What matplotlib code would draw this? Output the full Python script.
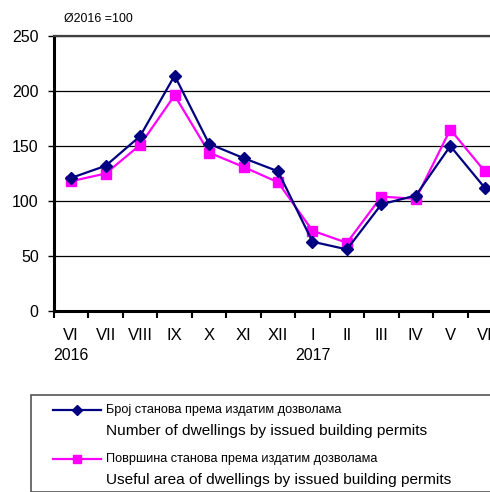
import numpy as np
import matplotlib
matplotlib.use('Agg')
import matplotlib.pyplot as plt
from matplotlib.lines import Line2D
from matplotlib.patches import Rectangle

plt.rcParams['font.family'] = ['Liberation Sans', 'DejaVu Sans']

months = ['VI', 'VII', 'VIII', 'IX', 'X', 'XI', 'XII', 'I', 'II', 'III', 'IV', 'V', 'VI']
years = {'2016': 0, '2017': 7}
dwellings = [121, 132, 159, 214, 152, 139, 127, 63, 56, 97, 105, 150, 112]
useful_area = [118, 125, 151, 196, 144, 131, 117, 73, 62, 104, 102, 165, 127]

label_num_sr = 'Број станова према издатим дозволама'
label_num_en = 'Number of dwellings by issued building permits'
label_area_sr = 'Површина станова према издатим дозволама'
label_area_en = 'Useful area of dwellings by issued building permits'

navy = '#000080'
magenta = '#FF00FF'

fig = plt.figure(figsize=(4.9, 4.92), dpi=100)
W, H = 490, 492
# axes extends past the right edge of the image (chart is cropped there)
ax = fig.add_axes([54 / W, (H - 311) / H, 448 / W, 275 / H])

x = np.arange(len(months))
ax.plot(x, dwellings, color=navy, lw=1.6, marker='D', ms=6, zorder=4)
ax.plot(x, useful_area, color=magenta, lw=1.6, marker='s', ms=6.5, zorder=3)

ax.set_xlim(-0.5, len(months) - 0.5)
ax.set_ylim(0, 250)
ax.set_yticks([0, 50, 100, 150, 200, 250])
ax.yaxis.grid(True, color='black', lw=0.9)
ax.set_axisbelow(True)
ax.tick_params(axis='y', labelsize=11.5, length=4, width=1, pad=7)

ax.set_xticks(np.arange(-0.5, len(months)), minor=True)
ax.set_xticks(x)
ax.set_xticklabels(months, fontsize=12)
ax.tick_params(axis='x', which='major', length=0, pad=12)
ax.tick_params(axis='x', which='minor', length=5, width=1.5)

ax.spines['left'].set_linewidth(2.2)
ax.spines['bottom'].set_linewidth(2.2)
ax.spines['top'].set_color('#404040')
ax.spines['top'].set_linewidth(1.6)
ax.spines['right'].set_visible(False)

for yr, pos in years.items():
    ax.text(pos, -40, yr, ha='center', va='center', fontsize=11.5,
            transform=ax.transData, clip_on=False)

fig.text(64 / W, 1 - 19 / H, 'Ø2016 =100', fontsize=8.9, va='center', ha='left')

# legend box
fig.add_artist(Rectangle((31 / W, 0), 470 / W, (H - 395) / H,
                         transform=fig.transFigure, fill=False,
                         edgecolor='#555555', lw=1.2))
entries = [(navy, 'D', 5, label_num_sr, label_num_en, 410),
           (magenta, 's', 5.5, label_area_sr, label_area_en, 459)]
for col, mk, ms, sr, en, yy in entries:
    fy = 1 - yy / H
    fig.add_artist(Line2D([53 / W, 101 / W], [fy, fy], color=col, lw=1.6,
                          transform=fig.transFigure))
    fig.add_artist(Line2D([77 / W], [fy], color=col, marker=mk, ms=ms,
                          transform=fig.transFigure))
    fig.text(106 / W, fy, sr, fontsize=9.2, va='center', ha='left')
    fig.text(106 / W, 1 - (yy + 21) / H, en, fontsize=11.1, va='center', ha='left')

fig.savefig('out.png', dpi=100)
